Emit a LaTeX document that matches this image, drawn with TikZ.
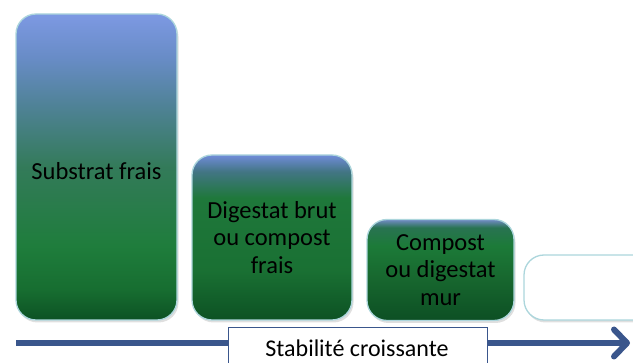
\documentclass[tikz,border=0pt]{standalone}
\usepackage{fontspec}
\setmainfont{Carlito}
\usetikzlibrary{arrows.meta,shadows}
\definecolor{edgecyan}{RGB}{172,214,220}
\definecolor{arrowblue}{RGB}{58,86,140}
\pgfdeclareverticalshading{shadeA}{100bp}{rgb(0bp)=(0.05,0.32,0.14); rgb(25bp)=(0.05,0.32,0.14); rgb(30bp)=(0.09,0.43,0.19); rgb(37bp)=(0.12,0.49,0.235); rgb(50bp)=(0.20,0.48,0.35); rgb(60bp)=(0.31,0.51,0.59); rgb(68bp)=(0.41,0.55,0.78); rgb(75bp)=(0.49,0.60,0.89); rgb(100bp)=(0.49,0.60,0.89)}
\pgfdeclareverticalshading{shadeB}{100bp}{rgb(0bp)=(0.05,0.32,0.14); rgb(25bp)=(0.05,0.32,0.14); rgb(40bp)=(0.10,0.44,0.20); rgb(62bp)=(0.12,0.47,0.23); rgb(70bp)=(0.26,0.46,0.52); rgb(75bp)=(0.44,0.55,0.85); rgb(100bp)=(0.44,0.55,0.85)}
\pgfdeclareverticalshading{shadeC}{100bp}{rgb(0bp)=(0.05,0.31,0.14); rgb(25bp)=(0.05,0.31,0.14); rgb(45bp)=(0.09,0.40,0.18); rgb(62bp)=(0.11,0.48,0.22); rgb(71bp)=(0.16,0.45,0.32); rgb(75bp)=(0.45,0.55,0.78); rgb(100bp)=(0.45,0.55,0.78)}
\tikzset{
  stagebox/.style={draw=edgecyan, line width=1.3pt, rounded corners=20pt,
    align=center, text=black, inner sep=4pt,
    font=\fontsize{24.5}{27.5}\selectfont,
    drop shadow={shadow xshift=1.5pt, shadow yshift=-2.5pt, opacity=0.25}},
  stagetext/.style={text=black, font=\fontsize{24.5}{27.5}\selectfont, align=center},
  labelbox/.style={draw=arrowblue, line width=1pt, fill=white, inner sep=0pt},
  labeltext/.style={text=black, font=\fontsize{24}{28}\selectfont, anchor=base},
  axisline/.style={draw=arrowblue, line width=6pt,
    -{Straight Barb[length=13pt,width=27pt,line cap=round,line join=round]}}
}
\begin{document}
\begin{tikzpicture}[x=1pt,y=-1pt]
\useasboundingbox (0,0) rectangle (633,363);
\clip (0,0) rectangle (633,363);
% stages
\node[stagebox, shading=shadeA, minimum width=161pt, minimum height=306pt] (s1) at (96.5,167) {};
\node[stagetext] (s1text) at (96.5,171) {Substrat frais};
\node[stagebox, shading=shadeB, minimum width=160pt, minimum height=165pt] (s2) at (272,237.5) {Digestat brut\\ou compost\\frais};
\node[stagebox, shading=shadeC, minimum width=147pt, minimum height=101pt] (s3) at (440.5,270) {Compost\\ou digestat\\mur};
\node[stagebox, fill=white, minimum width=140pt, minimum height=65pt] (s4) at (594,287.5) {};
% axis
\coordinate (axstart) at (16,343);
\coordinate (axend) at (630,343);
\draw[axisline] (axstart) -- (axend);
\node[labelbox, minimum width=259pt, minimum height=44pt, anchor=north west] (lab) at (228,327) {};
\node[labeltext] (labtext) at (357,357) {Stabilité croissante};
\end{tikzpicture}
\end{document}
